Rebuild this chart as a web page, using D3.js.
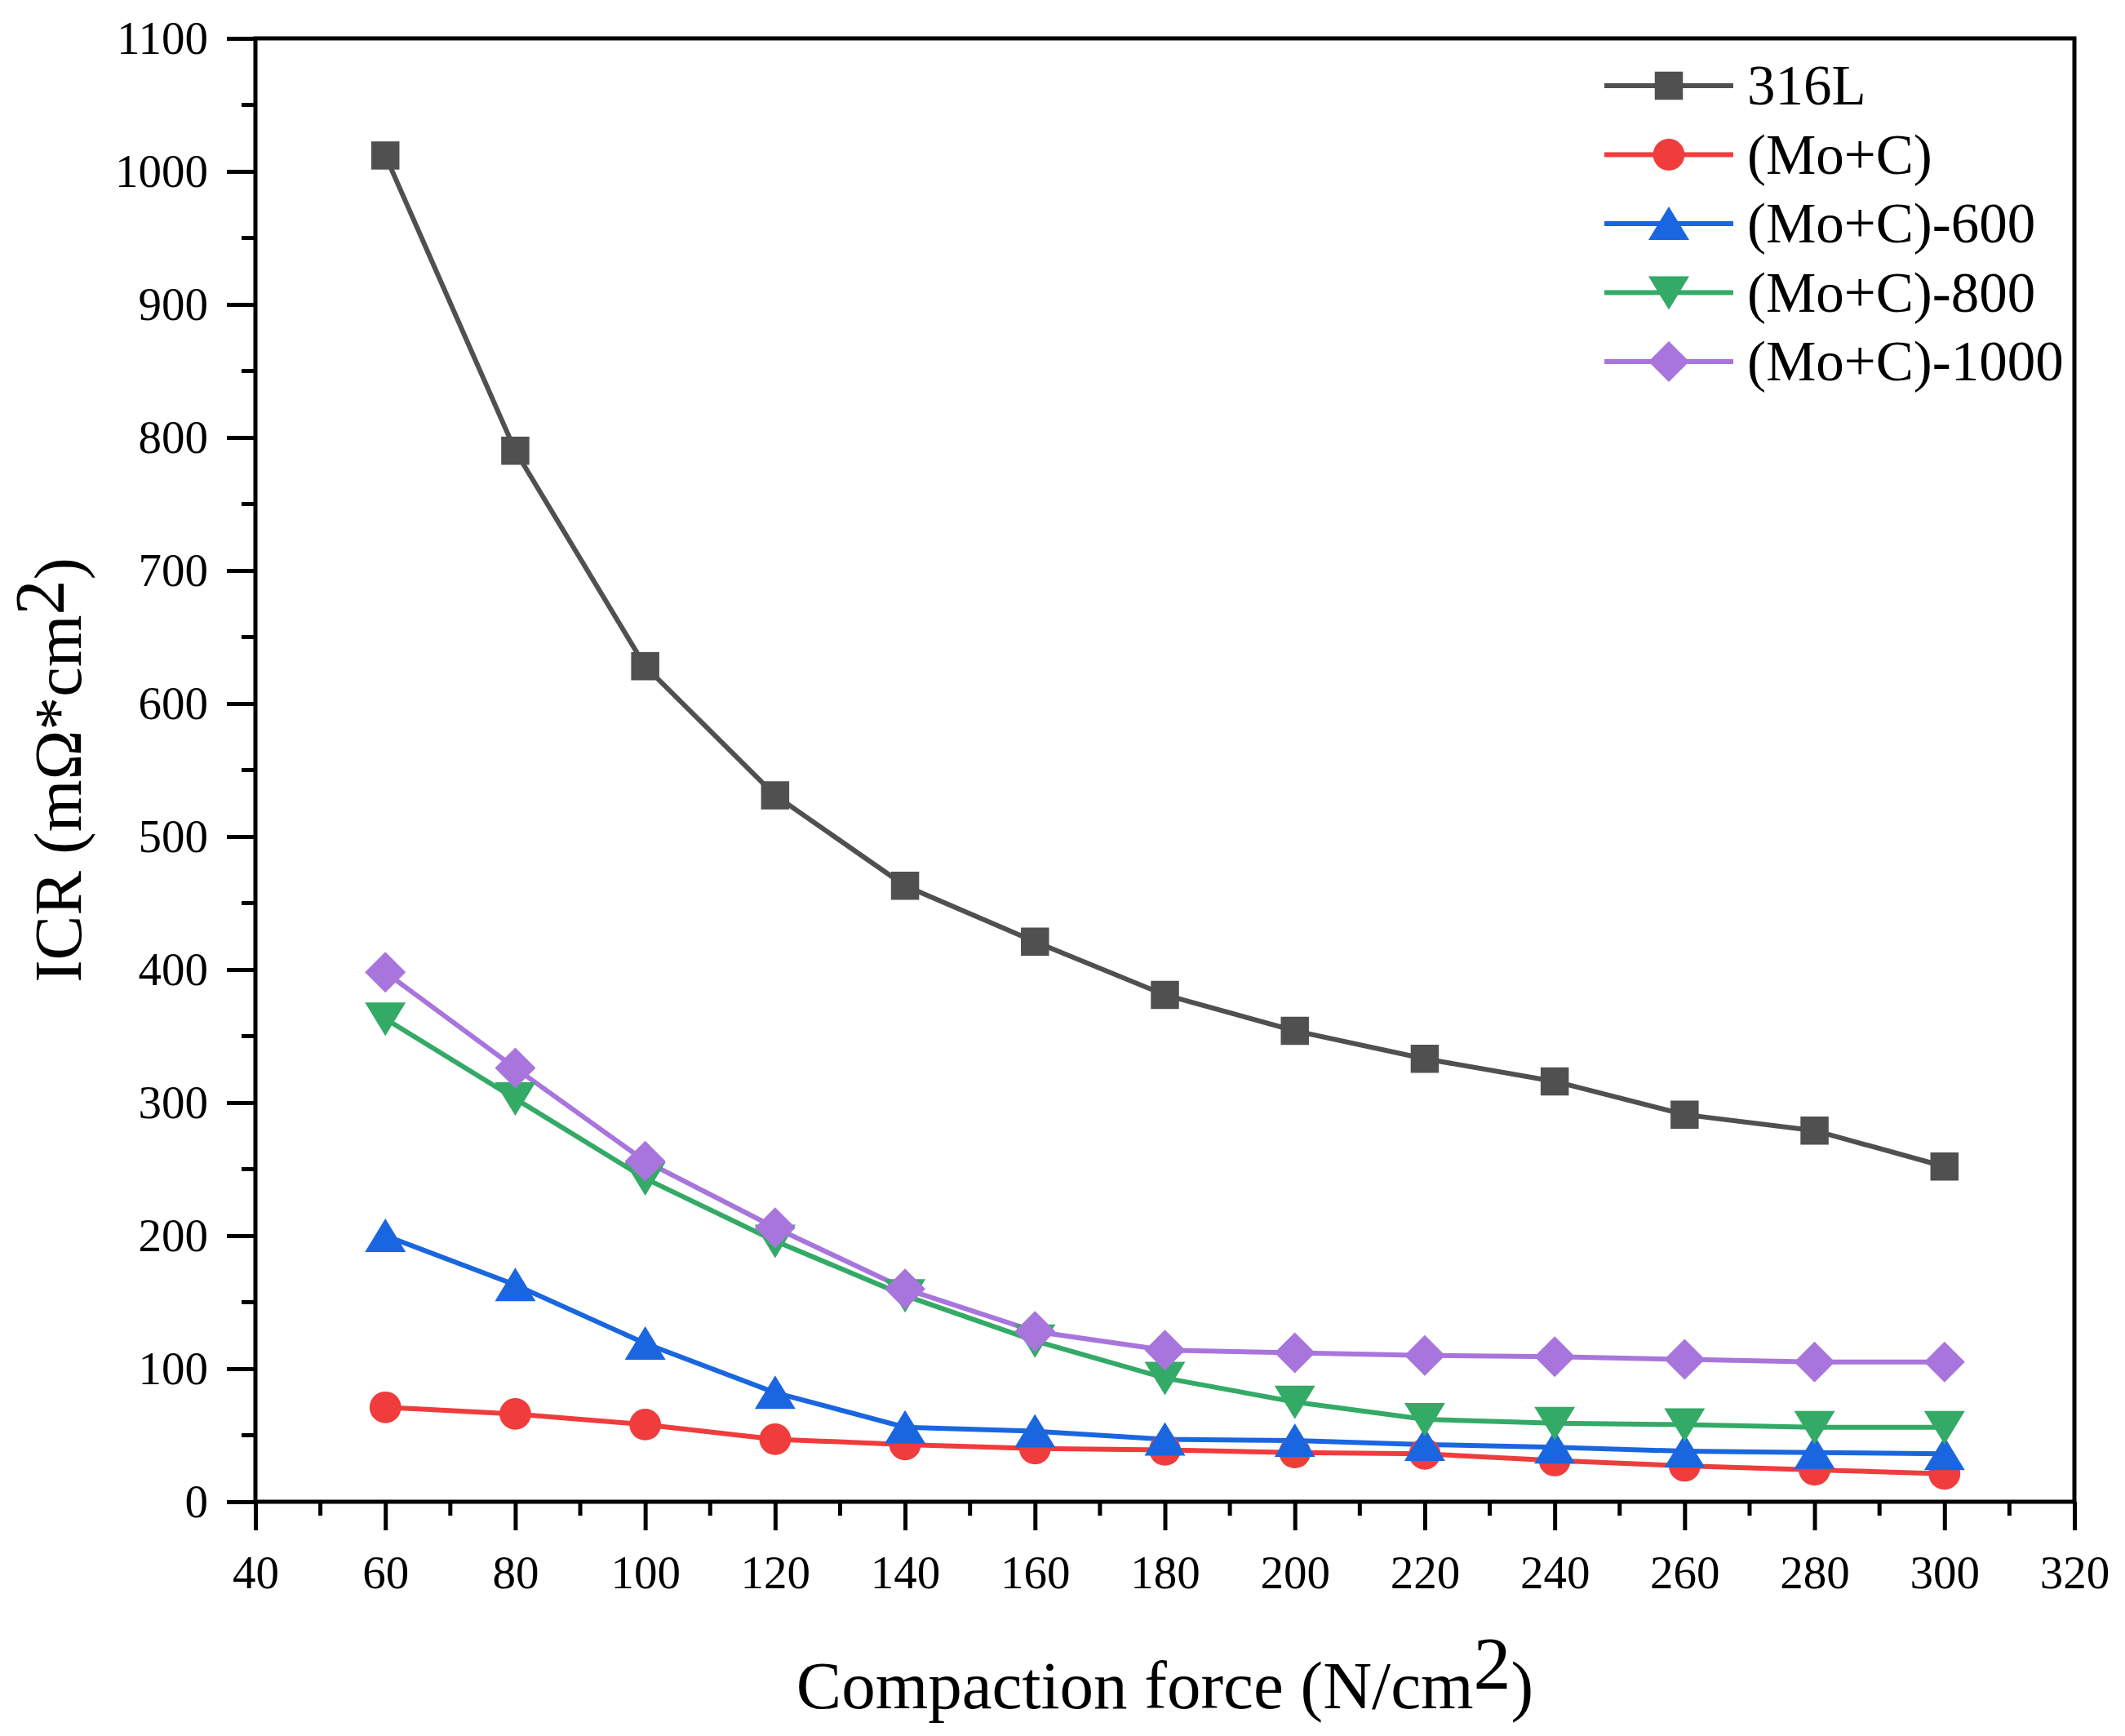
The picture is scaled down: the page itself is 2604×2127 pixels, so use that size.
<!DOCTYPE html>
<html>
<head>
<meta charset="utf-8">
<script src="https://cdn.jsdelivr.net/npm/d3@7"></script>
<style>
  body { margin: 0; background: #fff; }
  text { font-family: "Liberation Serif", "Times New Roman", serif; fill: #000; }
</style>
</head>
<body>
<div id="graph"></div>
<script>
// data
var force = [60, 80, 100, 120, 140, 160, 180, 200, 220, 240, 260, 280, 300];
var icr316L   = [1012, 790, 628, 531, 463, 421, 381, 354, 333, 316, 291, 279, 252];
var icrMoC    = [71, 66, 58, 47, 43, 40, 39, 37, 36, 31, 27, 24, 21];
var icrMoC600 = [200, 163, 119, 82, 56, 53, 47, 46, 43, 41, 38, 37, 36];
var icrMoC800 = [363, 303, 243, 196, 155, 121, 93, 75, 62, 59, 58, 56, 56];
var icrMoC1000 = [398, 326, 256, 206, 160, 128, 114, 112, 110, 109, 107, 105, 105];
var seriesNames = ["316L", "(Mo+C)", "(Mo+C)-600", "(Mo+C)-800", "(Mo+C)-1000"];
var xTicks = [40, 60, 80, 100, 120, 140, 160, 180, 200, 220, 240, 260, 280, 300, 320];
var yTicks = [0, 100, 200, 300, 400, 500, 600, 700, 800, 900, 1000, 1100];

var W = 2604, H = 2127;
var margin = {left: 313, right: 62, top: 47, bottom: 287};
var w = W - margin.left - margin.right;
var h = H - margin.top - margin.bottom;
var serif = "Liberation Serif, Times New Roman, serif";

var colors = ["#505050", "#f03c3c", "#1a66e0", "#33aa66", "#a875dd"];
var allSeries = [icr316L, icrMoC, icrMoC600, icrMoC800, icrMoC1000];

// marker shapes
var triUp = { draw: function(c, s) { c.moveTo(0, -21); c.lineTo(25, 20); c.lineTo(-25, 20); c.closePath(); } };
var triDown = { draw: function(c, s) { c.moveTo(0, 21); c.lineTo(25, -20); c.lineTo(-25, -20); c.closePath(); } };
var diamond = { draw: function(c, s) { c.moveTo(0, -25); c.lineTo(25, 0); c.lineTo(0, 25); c.lineTo(-25, 0); c.closePath(); } };
var shapes = [
    d3.symbol().type(d3.symbolSquare).size(1190),
    d3.symbol().type(d3.symbolCircle).size(1180),
    d3.symbol().type(triUp),
    d3.symbol().type(triDown),
    d3.symbol().type(diamond)
];

var svg = d3.select("#graph")
            .append("svg")
            .attr("width", W)
            .attr("height", H);
var g = svg.append("g")
           .attr("transform", "translate(" + margin.left + "," + margin.top + ")");

var x = d3.scaleLinear().domain([40, 320]).range([0, w]);
var y = d3.scaleLinear().domain([0, 1100]).range([h, 0]);

// minor ticks
var xMinor = d3.range(50, 320, 20);
var yMinor = d3.range(50, 1100, 100);
g.selectAll(".xminor").data(xMinor).enter().append("line")
    .attr("x1", function(d) { return x(d); }).attr("x2", function(d) { return x(d); })
    .attr("y1", h).attr("y2", h + 17)
    .attr("stroke", "#000").attr("stroke-width", 5);
g.selectAll(".yminor").data(yMinor).enter().append("line")
    .attr("y1", function(d) { return y(d); }).attr("y2", function(d) { return y(d); })
    .attr("x1", 0).attr("x2", -17)
    .attr("stroke", "#000").attr("stroke-width", 5);

// axes
var xAxis = g.append("g")
    .attr("transform", "translate(0," + h + ")")
    .call(d3.axisBottom(x).tickValues(xTicks).tickFormat(d3.format("d"))
          .tickSize(35).tickPadding(31).tickSizeOuter(0));
var yAxis = g.append("g")
    .call(d3.axisLeft(y).tickValues(yTicks).tickFormat(d3.format("d"))
          .tickSize(35).tickPadding(23).tickSizeOuter(0));
[xAxis, yAxis].forEach(function(a) {
    a.attr("font-family", serif).attr("font-size", 57);
    a.selectAll("path.domain").remove();
    a.selectAll("line").attr("stroke", "#000").attr("stroke-width", 5);
    a.selectAll("text").attr("font-size", 57).style("font-family", serif);
});

// frame
g.append("rect")
    .attr("x", 0).attr("y", 0).attr("width", w).attr("height", h)
    .attr("fill", "none").attr("stroke", "#000").attr("stroke-width", 5);

// lines and markers
var line = d3.line()
    .x(function(d, i) { return x(force[i]); })
    .y(function(d) { return y(d); });

allSeries.forEach(function(vals, k) {
    g.append("path")
        .datum(vals)
        .attr("d", line)
        .attr("fill", "none")
        .attr("stroke", colors[k])
        .attr("stroke-width", 6);
});
allSeries.forEach(function(vals, k) {
    g.selectAll(".m" + k)
        .data(vals)
        .enter()
        .append("path")
        .attr("d", shapes[k])
        .attr("transform", function(d, i) { return "translate(" + x(force[i]) + "," + y(d) + ")"; })
        .attr("fill", colors[k]);
});

// legend
var legend = svg.append("g");
seriesNames.forEach(function(name, k) {
    var ly = 105 + k * 84.5;
    legend.append("line")
        .attr("x1", 1966).attr("x2", 2124).attr("y1", ly).attr("y2", ly)
        .attr("stroke", colors[k]).attr("stroke-width", 6);
    legend.append("path")
        .attr("d", shapes[k])
        .attr("transform", "translate(2045," + ly + ")")
        .attr("fill", colors[k]);
    legend.append("text")
        .attr("x", 2141).attr("y", ly + 23)
        .attr("font-size", 69)
        .text(name);
});

// axis titles
var xt = svg.append("text")
    .attr("x", margin.left + w / 2).attr("y", 2093)
    .attr("text-anchor", "middle")
    .attr("font-size", 83);
xt.append("tspan").text("Compaction force (N/cm");
xt.append("tspan").attr("font-size", 92).attr("dy", -24).text("2");
xt.append("tspan").attr("dy", 24).text(")");

var yt = svg.append("text")
    .attr("transform", "translate(99," + (margin.top + h / 2) + ") rotate(-90)")
    .attr("text-anchor", "middle")
    .attr("font-size", 82);
yt.append("tspan").text("ICR (m\u03a9*cm");
yt.append("tspan").attr("font-size", 86).attr("dy", -21).text("2");
yt.append("tspan").attr("dy", 21).text(")");
</script>
</body>
</html>
